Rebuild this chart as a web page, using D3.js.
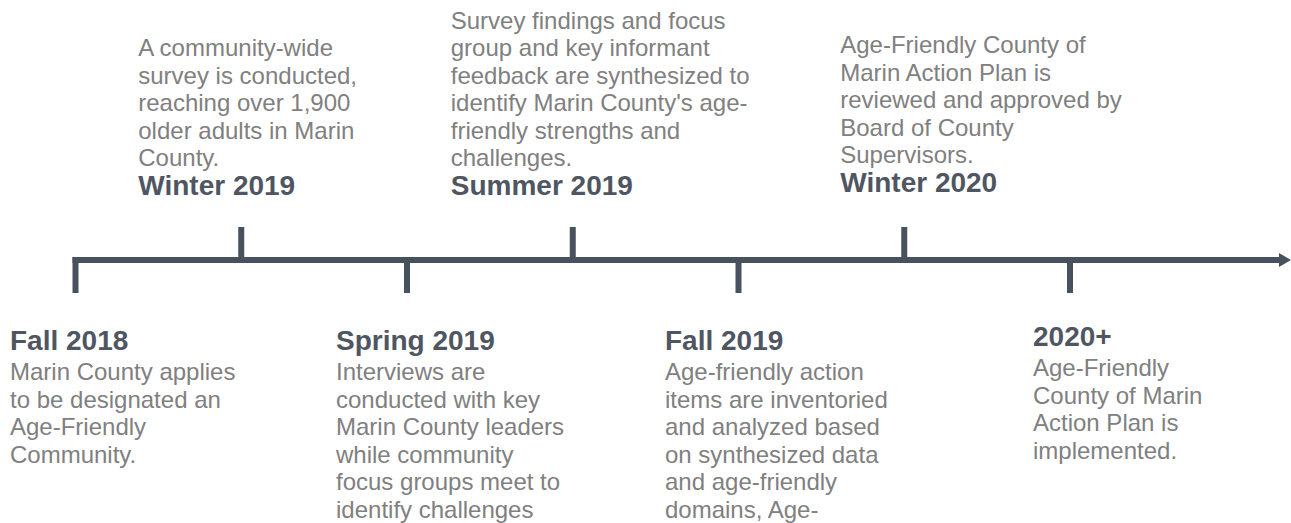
<!DOCTYPE html>
<html>
<head>
<meta charset="utf-8">
<script src="https://cdn.jsdelivr.net/npm/d3@7"></script>
<style>
  body { margin: 0; background: #fff; }
  svg { display: block; }
  .title { font-family: "Liberation Sans", Arial, sans-serif; font-weight: bold; font-size: 28px; fill: #4f5662; }
  .desc { font-family: "Liberation Sans", Arial, sans-serif; font-size: 24px; fill: #808080; }
</style>
</head>
<body>
<div id="timeline"></div>
<script>
// Timeline data
const periods = ["Fall 2018", "Winter 2019", "Spring 2019", "Summer 2019", "Fall 2019", "Winter 2020", "2020+"];
const sides = ["below", "above", "below", "above", "below", "above", "below"];
const descriptions = [
    ["Marin County applies", "to be designated an", "Age-Friendly", "Community."],
    ["A community-wide", "survey is conducted,", "reaching over 1,900", "older adults in Marin", "County."],
    ["Interviews are", "conducted with key", "Marin County leaders", "while community", "focus groups meet to", "identify challenges"],
    ["Survey findings and focus", "group and key informant", "feedback are synthesized to", "identify Marin County's age-", "friendly strengths and", "challenges."],
    ["Age-friendly action", "items are inventoried", "and analyzed based", "on synthesized data", "and age-friendly", "domains, Age-"],
    ["Age-Friendly County of", "Marin Action Plan is", "reviewed and approved by", "Board of County", "Supervisors."],
    ["Age-Friendly", "County of Marin", "Action Plan is", "implemented."]
];

// Layout (text box nudges relative to each tick)
const labelDx = [-65.5, -103, -71, -122, -73.5, -64, -37];
const labelDy = [0, 0, 0, 0, 0, -3, -4];

const width = 1291, height = 523;
const lineY = 260, lineH = 6, tickLen = 33, lineHeight = 27.5;

const svg = d3.select("#timeline").append("svg")
    .attr("width", width)
    .attr("height", height);

const x = d3.scalePoint()
    .domain(periods)
    .range([75.5, 1070]);

const data = periods.map((p, i) => ({
    period: p,
    side: sides[i],
    lines: descriptions[i],
    dx: labelDx[i],
    dy: labelDy[i]
}));

const color = "#48515e";

// Main line with arrow
svg.append("line")
    .attr("x1", x.range()[0] - lineH / 2)
    .attr("x2", width - 10)
    .attr("y1", lineY)
    .attr("y2", lineY)
    .style("stroke", color)
    .style("stroke-width", lineH);

svg.append("path")
    .attr("d", d3.line()([[width - 12, lineY - 7], [width, lineY], [width - 12, lineY + 7]]) + "Z")
    .style("fill", color);

// Ticks
svg.selectAll(".tick")
    .data(data)
    .enter().append("line")
    .attr("class", "tick")
    .attr("x1", d => x(d.period))
    .attr("x2", d => x(d.period))
    .attr("y1", d => d.side === "above" ? lineY - tickLen : lineY - lineH / 2)
    .attr("y2", d => d.side === "above" ? lineY + lineH / 2 : lineY + tickLen)
    .style("stroke", color)
    .style("stroke-width", lineH);

// Labels
const labels = svg.selectAll(".label")
    .data(data)
    .enter().append("g")
    .attr("class", "label")
    .attr("transform", d => "translate(" + (x(d.period) + d.dx) + "," + d.dy + ")");

labels.append("text")
    .attr("class", "title")
    .attr("y", d => d.side === "above" ? lineY - 65 : lineY + 90)
    .text(d => d.period);

labels.each(function(d) {
    const g = d3.select(this);
    const n = d.lines.length;
    g.selectAll(".desc")
        .data(d.lines)
        .enter().append("text")
        .attr("class", "desc")
        .attr("y", (t, i) => d.side === "above"
            ? lineY - 65 - 29 - (n - 1 - i) * lineHeight
            : lineY + 90 + 30 + i * lineHeight)
        .text(t => t);
});
</script>
</body>
</html>
